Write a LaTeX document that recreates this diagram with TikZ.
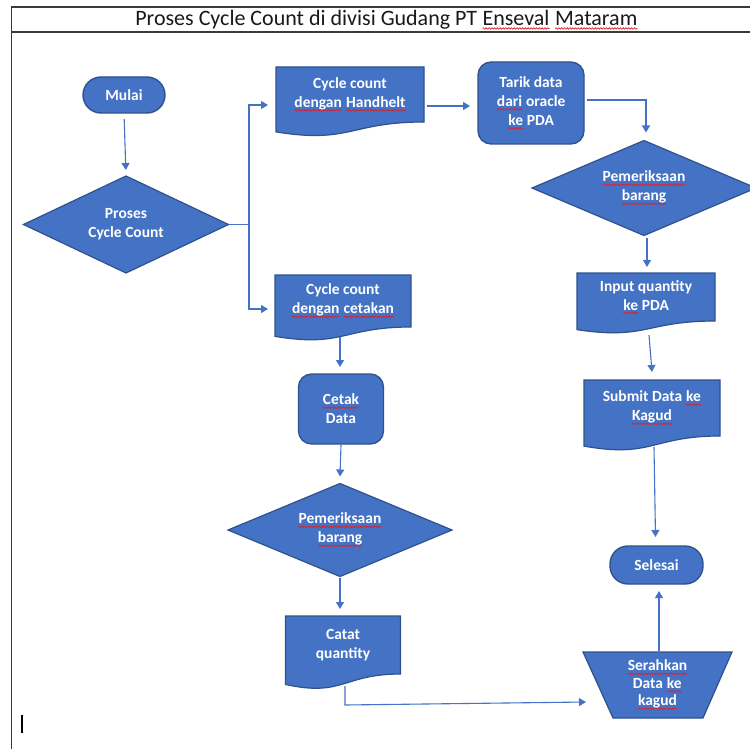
\documentclass[tikz,border=0pt]{standalone}
\usepackage{fontspec}
\setmainfont{Carlito}
\usetikzlibrary{shapes.geometric,arrows.meta,calc,decorations.pathmorphing}
\pgfdeclarelayer{background}
\pgfsetlayers{background,main}
\definecolor{ofblue}{HTML}{4472C4}
\definecolor{ofdark}{HTML}{2F528F}
\definecolor{framec}{HTML}{3A3A3A}
\definecolor{squig}{HTML}{E0202A}
\newcommand\spell[1]{\tikz[baseline=(w.base)]{\node[shape=rectangle,draw=none,fill=none,inner sep=0pt,outer sep=0pt,minimum width=0pt,minimum height=0pt,sharp corners,anchor=base] (w) {#1};\draw[squig,line width=0.7pt,sharp corners,decorate,decoration={snake,amplitude=0.75pt,segment length=2.8pt}] ([yshift=-2.8pt]w.base west) -- ([yshift=-2.8pt]w.base east);}}
\newcommand\docshape[1]{\path[shapefill] (#1.north west) -- (#1.north east) -- (#1.south east) .. controls (#1.south) and ($(#1.north)!1.40!(#1.south)$) .. ($(#1.north west)!1.18!(#1.south west)$) -- cycle;}
\tikzset{
 txt/.style={text=white, font=\bfseries\fontsize{15.5}{19}\selectfont, align=center, inner sep=0pt, outer sep=0pt},
 term/.style={txt, shape=rectangle, rounded corners=18pt, fill=ofblue, draw=ofdark, line width=1.4pt},
 proc/.style={txt, shape=rectangle, rounded corners=13pt, fill=ofblue, draw=ofdark, line width=1.3pt},
 dec/.style={txt, shape=diamond, shape aspect=2.3, fill=ofblue, draw=ofdark, line width=1.2pt},
 doc/.style={txt, shape=rectangle},
 shapefill/.style={fill=ofblue, draw=ofdark, line width=1.2pt},
 arrow/.style={draw=ofblue, line width=1.1pt, -{Triangle[length=7pt,width=8pt]}},
 plain/.style={draw=ofblue, line width=1.1pt},
 framel/.style={draw=framec, line width=1.3pt},
}
\begin{document}
\begin{tikzpicture}[x=1pt,y=-1pt]
\path[use as bounding box] (0,0) rectangle (750,749);
% frame
\draw[framel] (11.5,749) -- (11.5,7) -- (750,7);
\draw[framel] (11.5,32) -- (750,32);
\node[font=\fontsize{22}{26}\selectfont, text=black!90, inner sep=0pt] (title) at (386.5,20) {Proses Cycle Count di divisi Gudang PT \spell{Enseval} \spell{Mataram}};
% nodes
\node[term, minimum width=82pt, minimum height=36pt] (mulai) at (124,95) {Mulai};
\node[dec, minimum width=205pt, minimum height=97pt] (proses) at (126,224.5) {Proses\\Cycle Count};
\node[doc, minimum width=148pt, minimum height=55pt] (hh) at (350,94.5) {Cycle count\\\spell{dengan} \spell{Handhelt}};
\node[proc, minimum width=106pt, minimum height=82pt] (tarik) at (531,103) {Tarik data\\\spell{dari} oracle\\\spell{ke} PDA};
\node[dec, minimum width=224pt, minimum height=95pt] (pem1) at (644,188) {\spell{Pemeriksaan}\\\spell{barang}};
\node[doc, minimum width=138pt, minimum height=48pt] (inp) at (646,297) {Input quantity\\\spell{ke} PDA};
\node[doc, minimum width=136pt, minimum height=56pt] (sub) at (652,408) {Submit Data \spell{ke}\\\spell{Kagud}};
\node[term, minimum width=93pt, minimum height=38pt] (sel) at (656.5,565) {Selesai};
\node[doc, minimum width=149pt, minimum height=66pt, font=\bfseries\fontsize{15.5}{17.5}\selectfont] (ser) at (657.5,685) {\spell{Serahkan}\\Data \spell{ke}\\\spell{kagud}};
\node[doc, minimum width=136pt, minimum height=52pt] (cet) at (343,301) {Cycle count\\\spell{dengan} \spell{cetakan}};
\node[proc, minimum width=85pt, minimum height=70pt] (cetak) at (341,409) {\spell{Cetak}\\Data};
\node[dec, minimum width=224pt, minimum height=93pt] (pem2) at (340,530) {\spell{Pemeriksaan}\\\spell{barang}};
\node[doc, minimum width=115pt, minimum height=58pt] (catat) at (343,645) {Catat\\quantity};
% document / trapezoid outlines
\begin{pgfonlayer}{background}
\docshape{hh}
\docshape{inp}
\docshape{sub}
\docshape{cet}
\docshape{catat}
\path[shapefill] (ser.north west) -- (ser.north east) -- ([xshift=-29pt]ser.south east) -- ([xshift=30pt]ser.south west) -- cycle;
\end{pgfonlayer}
% connectors
\coordinate (split) at (249,224.5);
\draw[arrow, shorten <=6pt, shorten >=6pt] (mulai.south) -- (proses.north);
\draw[plain] (proses.east) -- (split);
\draw[arrow] (split) |- ([shift={(-8pt,-10.5pt)}]hh.west);
\draw[arrow] (split) |- ([shift={(-7pt,-8pt)}]cet.west);
\draw[arrow] ([shift={(3pt,-11.5pt)}]hh.east) -- ([shift={(-8pt,-3pt)}]tarik.west);
\draw[arrow] ([shift={(3pt,3pt)}]tarik.east) -| ([shift={(2pt,8pt)}]pem1.north);
\draw[arrow] ([shift={(3pt,-2pt)}]pem1.south) -- ([shift={(1pt,6pt)}]inp.north);
\draw[arrow] ([shift={(3pt,-14pt)}]inp.south) -- ([yshift=8pt]sub.north);
\draw[arrow] ([shift={(2pt,-11pt)}]sub.south) -- ([shift={(-1pt,9pt)}]sel.north);
\draw[arrow] ([shift={(1.5pt,1pt)}]ser.north) -- ([shift={(2.5pt,-7pt)}]sel.south);
\draw[arrow] ([shift={(-3pt,-10pt)}]cet.south) -- ([shift={(-1pt,7pt)}]cetak.north);
\draw[arrow] ([yshift=-1pt]cetak.south) -- ([yshift=7pt]pem2.north);
\draw[arrow] ([yshift=-1pt]pem2.south) -- ([shift={(-3pt,7pt)}]catat.north);
\draw[arrow] ([shift={(2pt,-12pt)}]catat.south) -- ++(0,19) -- ([shift={(3pt,-17pt)}]ser.west);
% text cursor
\draw[line width=1.6pt, black] (22,715) -- (22,733);
\end{tikzpicture}
\end{document}
